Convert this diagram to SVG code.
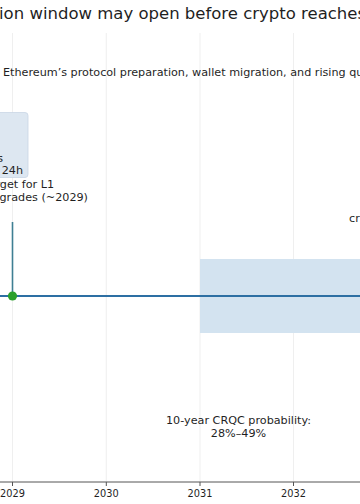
<svg xmlns="http://www.w3.org/2000/svg" width="360" height="504" viewBox="0 0 360 504">
<style>
text{font-family:"DejaVu Sans","Liberation Sans",sans-serif;fill:#1f1f1f}
.grid{stroke:#ebebeb;stroke-width:0.8}
.tick{font-size:9.8px;text-anchor:middle}
.lbl{font-size:11.2px}
</style>
<rect width="360" height="504" fill="#ffffff"/>
<g id="grid">
<line class="grid" x1="12.5" y1="33" x2="12.5" y2="482"/>
<line class="grid" x1="106.3" y1="33" x2="106.3" y2="482"/>
<line class="grid" x1="200" y1="33" x2="200" y2="482"/>
<line class="grid" x1="293.5" y1="33" x2="293.5" y2="482"/>
</g>
<text id="title" x="-1" y="19" style="font-size:16.5px">ion window may open before crypto reaches</text>
<text id="subtitle" x="3" y="76" style="font-size:11.2px">Ethereum’s protocol preparation, wallet migration, and rising qu</text>
<g id="crqc-window">
<rect x="200" y="259" width="162" height="74" fill="#d3e3f0"/>
</g>
<g id="connectors">
<line x1="12.5" y1="222" x2="12.5" y2="296" stroke="#3f7f93" stroke-width="1.6"/>
<line x1="0" y1="296" x2="360" y2="296" stroke="#2d6fa3" stroke-width="2.2"/>
</g>
<g id="box-note">
<rect x="-20" y="112.5" width="48" height="65" rx="3" fill="#dde7f1" stroke="#c9d6e5" stroke-width="0.8"/>
<text class="lbl" x="3" y="162" text-anchor="end">s</text>
<text class="lbl" x="23" y="174" text-anchor="end">24h</text>
</g>
<g id="milestone-2029">
<text class="lbl" x="54" y="188" text-anchor="end">rget for L1</text>
<text class="lbl" x="88" y="201" text-anchor="end">grades (~2029)</text>
<circle cx="12.5" cy="296" r="4.6" fill="#2ca02c"/>
</g>
<g id="label-cr">
<text class="lbl" x="349" y="222">cr</text>
</g>
<g id="probability">
<text class="lbl" x="238.5" y="424" text-anchor="middle">10-year CRQC probability:</text>
<text class="lbl" x="238.5" y="437" text-anchor="middle">28%–49%</text>
</g>
<g id="axis">
<line x1="0" y1="482" x2="360" y2="482" stroke="#555555" stroke-width="1"/>
<line x1="12.5" y1="482" x2="12.5" y2="486" stroke="#555555" stroke-width="1"/>
<line x1="106.3" y1="482" x2="106.3" y2="486" stroke="#555555" stroke-width="1"/>
<line x1="200" y1="482" x2="200" y2="486" stroke="#555555" stroke-width="1"/>
<line x1="293.5" y1="482" x2="293.5" y2="486" stroke="#555555" stroke-width="1"/>
<text class="tick" x="12.5" y="497">2029</text>
<text class="tick" x="106.3" y="497">2030</text>
<text class="tick" x="200" y="497">2031</text>
<text class="tick" x="293.5" y="497">2032</text>
</g>
</svg>
